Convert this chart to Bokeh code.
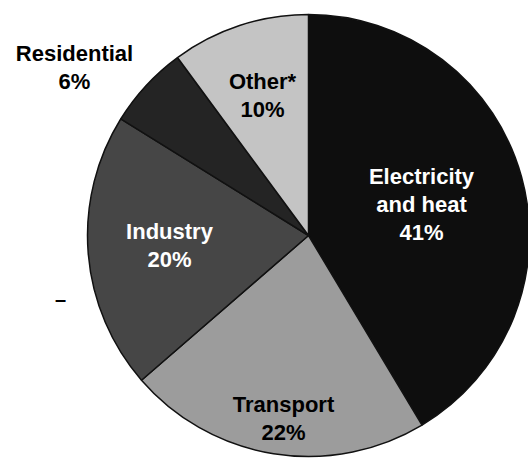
import math
from bokeh.plotting import figure
from bokeh.models import Range1d, ColumnDataSource
from bokeh.core.properties import value
from bokeh.embed import file_html
from bokeh.resources import INLINE

# ---- data ----
sectors = ["Electricity\nand heat", "Transport", "Industry", "Residential", "Other*"]
shares = [41, 22, 20, 6, 10]
colors = ["#0e0e0e", "#9c9c9c", "#464646", "#242424", "#c4c4c4"]
text_colors = ["white", "black", "white", "black", "black"]
# layout: label block centres in pixels (from top-left of the page)
label_px = [(421, 204), (283, 418), (169, 245), (74, 67), (262, 95)]

W, H = 528, 462
cx, cy, R = 308, H - 235, 221

total = float(sum(shares))
starts, ends, lx, ly, labels = [], [], [], [], []
cum = 0.0
for name, s, (px, py) in zip(sectors, shares, label_px):
    a0 = cum / total * 2 * math.pi
    cum += s
    a1 = cum / total * 2 * math.pi
    starts.append(math.pi / 2 - a0)
    ends.append(math.pi / 2 - a1)
    lx.append(px)
    ly.append(H - py)
    labels.append(f"{name}\n{s}%")

src = ColumnDataSource(dict(start=starts, end=ends, color=colors,
                            lx=lx, ly=ly, label=labels, tcolor=text_colors))

p = figure(width=W, height=H, output_backend="svg", toolbar_location=None,
           x_range=Range1d(0, W), y_range=Range1d(0, H),
           x_axis_type=None, y_axis_type=None, min_border=0)
p.outline_line_color = None
p.grid.visible = False
p.background_fill_color = "white"

p.wedge(x=cx, y=cy, radius=R, start_angle="start", end_angle="end",
        direction="clock", fill_color="color", line_color="#111111",
        line_width=1.5, source=src)

p.text(x="lx", y="ly", text="label", source=src, text_color="tcolor",
       text_align="center", text_baseline="middle",
       text_font=value("Liberation Sans"), text_font_style="bold",
       text_font_size="22px", text_line_height=1.12)

p.text(x=[60], y=[H - 298], text=["\u2013"], text_color="black",
       text_align="center", text_baseline="middle",
       text_font=value("Liberation Sans"), text_font_style="bold",
       text_font_size="20px")

open("out.html", "w").write(file_html(p, INLINE))
